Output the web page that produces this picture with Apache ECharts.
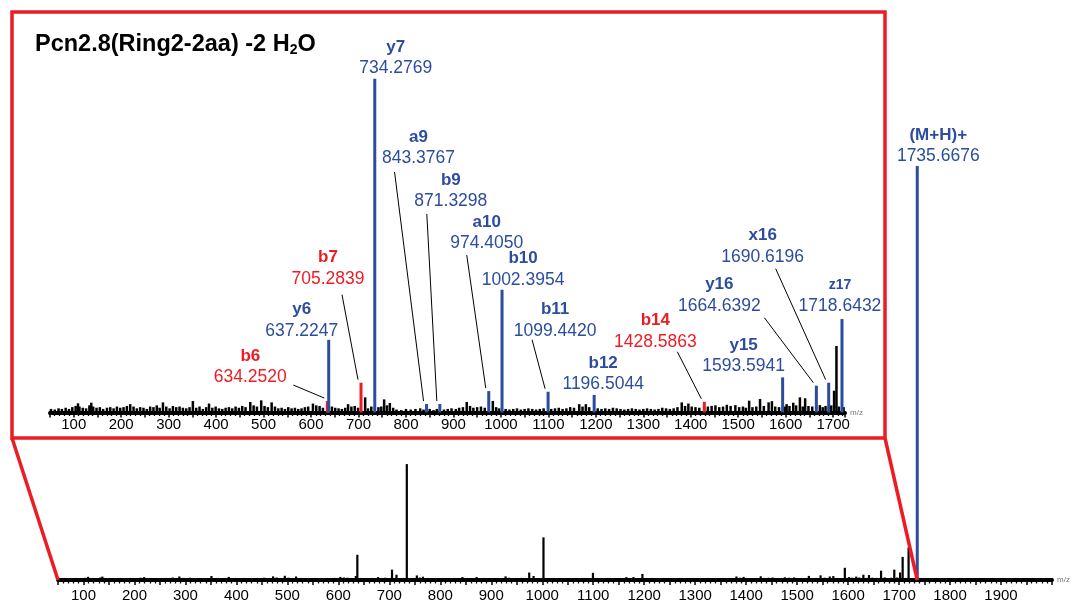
<!DOCTYPE html>
<html>
<head>
<meta charset="utf-8">
<script src="https://cdn.jsdelivr.net/npm/echarts@6/dist/echarts.min.js"></script>
<style>
  html, body { margin: 0; padding: 0; background: #fff; }
  #main { width: 1076px; height: 603px; }
</style>
</head>
<body>
<div id="main"></div>
<script>
// annotated fragment ions (m/z, relative intensity, (M+H)+ = 100)
const ionNames = ['b6', 'y6', 'b7', 'y7', 'a9', 'b9', 'a10', 'b10', 'b11', 'b12', 'b14', 'y15', 'y16', 'x16', 'z17', '(M+H)+'];
const ionMz = [634.2520, 637.2247, 705.2839, 734.2769, 843.3767, 871.3298, 974.4050, 1002.3954, 1099.4420, 1196.5044, 1428.5863, 1593.5941, 1664.6392, 1690.6196, 1718.6432, 1735.6676];
const ionIntensity = [0.96, 6.1, 2.5, 28.0, 0.71, 0.71, 1.8, 10.3, 1.74, 1.47, 0.9, 2.95, 2.25, 2.5, 7.84, 100];
const ionSeries = ['b', 'y', 'b', 'y', 'a', 'b', 'a', 'b', 'b', 'b', 'b', 'y', 'y', 'x', 'z', 'M'];
const redIons = ['b6', 'b7', 'b14'];

// other unassigned peaks that stick out of the baseline
const otherPeaks = [
  [109, 0.77], [137, 0.82], [219, 0.7], [288, 0.85], [351, 0.96], [385, 0.75], [472, 0.88], [495, 1.02],
  [517, 0.85], [604, 0.75], [678, 0.7], [714, 1.27], [754, 1.1], [766, 0.8], [928, 0.88], [983, 0.97],
  [1165, 0.7], [1179, 0.7], [1381, 0.85], [1395, 0.75], [1476, 0.65], [1494, 0.62], [1523, 0.99], [1546, 1.13],
  [1564, 0.85], [1571, 0.95], [1602, 0.7], [1616, 0.82], [1630, 1.27], [1641, 1.19], [1672, 0.62], [1702, 1.83],
  [1707, 5.58]
];

// baseline noise
const noisePeaks = [
  [52, 0.3], [60, 0.25], [68, 0.35], [75, 0.3], [83, 0.4], [90, 0.3], [97, 0.45], [104, 0.55], [112, 0.5],
  [119, 0.4], [126, 0.35], [133, 0.6], [141, 0.5], [148, 0.4], [155, 0.45], [162, 0.3], [170, 0.4], [177, 0.45],
  [184, 0.35], [191, 0.5], [198, 0.4], [205, 0.45], [212, 0.55], [226, 0.5], [233, 0.35], [240, 0.45], [247, 0.4],
  [254, 0.3], [261, 0.5], [268, 0.45], [275, 0.6], [281, 0.4], [295, 0.5], [302, 0.35], [309, 0.55], [316, 0.45],
  [323, 0.5], [330, 0.4], [337, 0.35], [344, 0.45], [358, 0.4], [365, 0.5], [372, 0.3], [379, 0.45], [392, 0.4],
  [399, 0.5], [406, 0.35], [413, 0.3], [420, 0.4], [427, 0.45], [434, 0.35], [441, 0.5], [448, 0.4], [455, 0.55],
  [462, 0.45], [479, 0.6], [486, 0.5], [502, 0.55], [509, 0.45], [524, 0.5], [531, 0.35], [538, 0.4], [545, 0.3],
  [552, 0.45], [559, 0.35], [566, 0.4], [573, 0.3], [580, 0.35], [587, 0.45], [594, 0.5], [611, 0.6], [618, 0.55],
  [625, 0.4], [644, 0.5], [651, 0.4], [658, 0.35], [665, 0.3], [672, 0.4], [685, 0.5], [692, 0.55], [699, 0.4],
  [720, 0.35], [727, 0.5], [742, 0.45], [748, 0.5], [760, 0.6], [773, 0.4], [780, 0.25], [790, 0.2], [800, 0.3],
  [810, 0.25], [820, 0.3], [830, 0.35], [837, 0.25], [850, 0.3], [858, 0.2], [865, 0.3], [880, 0.25], [888, 0.3],
  [896, 0.35], [905, 0.3], [912, 0.4], [920, 0.45], [935, 0.55], [942, 0.4], [950, 0.45], [958, 0.5], [966, 0.4],
  [990, 0.45], [996, 0.35], [1010, 0.3], [1018, 0.25], [1026, 0.3], [1034, 0.35], [1042, 0.25], [1050, 0.3],
  [1058, 0.35], [1066, 0.3], [1074, 0.25], [1082, 0.3], [1090, 0.35], [1106, 0.3], [1114, 0.35], [1122, 0.4],
  [1130, 0.3], [1138, 0.35], [1146, 0.45], [1154, 0.4], [1172, 0.5], [1186, 0.45], [1204, 0.35], [1212, 0.3],
  [1220, 0.35], [1228, 0.3], [1236, 0.4], [1244, 0.35], [1252, 0.3], [1260, 0.25], [1268, 0.3], [1276, 0.35],
  [1284, 0.3], [1292, 0.25], [1300, 0.3], [1308, 0.35], [1316, 0.3], [1324, 0.25], [1332, 0.3], [1340, 0.4],
  [1348, 0.35], [1356, 0.3], [1364, 0.35], [1372, 0.45], [1388, 0.55], [1402, 0.5], [1410, 0.45], [1418, 0.4],
  [1436, 0.5], [1444, 0.55], [1452, 0.6], [1460, 0.45], [1468, 0.5], [1484, 0.55], [1502, 0.45], [1510, 0.5],
  [1516, 0.4], [1530, 0.45], [1538, 0.5], [1554, 0.55], [1578, 0.5], [1586, 0.45], [1598, 0.5], [1608, 0.55],
  [1622, 0.6], [1636, 0.5], [1648, 0.55], [1656, 0.5], [1678, 0.45], [1684, 0.55], [1696, 0.6], [1712, 0.5],
  [1722, 0.45], [1742, 0.5], [1750, 0.4], [1758, 0.3], [1766, 0.25], [1775, 0.3], [1784, 0.2], [1793, 0.25],
  [1802, 0.3], [1811, 0.2], [1820, 0.25], [1830, 0.2], [1840, 0.25], [1850, 0.3], [1860, 0.2], [1870, 0.25],
  [1880, 0.2], [1890, 0.25], [1900, 0.2], [1910, 0.25], [1920, 0.2], [1930, 0.25], [1940, 0.2], [1950, 0.25],
  [1960, 0.3], [1970, 0.2], [1980, 0.25], [1990, 0.2]
];

const insetTickLabels = [100, 200, 300, 400, 500, 600, 700, 800, 900, 1000, 1100, 1200, 1300, 1400, 1500, 1600, 1700];
const fullTickLabels = [100, 200, 300, 400, 500, 600, 700, 800, 900, 1000, 1100, 1200, 1300, 1400, 1500, 1600, 1700, 1800, 1900];

const FONT = '"Liberation Sans", Arial, Helvetica, sans-serif';
const BLUE = '#2c4c9e';
const RED = '#ec1c24';
const INSET_MAX = 1725;

// where the label sits relative to the top of its peak (px), and where its leader starts
const labelLayout = {
  'b6': { dx: -77, dy: -24, lead: [-34, -16] },
  'y6': { dx: -27, dy: -9 },
  'b7': { dx: -33, dy: -104, lead: [-19, -88] },
  'y7': { dx: 21, dy: -11 },
  'a9': { dx: -8, dy: -246, lead: [-32, -232] },
  'b9': { dx: 11, dy: -203, lead: [-13, -190] },
  'a10': { dx: -2, dy: -148, lead: [-22, -136] },
  'b10': { dx: 21, dy: -10 },
  'b11': { dx: 7, dy: -61, lead: [-16, -52] },
  'b12': { dx: 9, dy: -11 },
  'b14': { dx: -49, dy: -60, lead: [-27, -50] },
  'y15': { dx: -39, dy: -11 },
  'y16': { dx: -97, dy: -80, lead: [-52, -68] },
  'x16': { dx: -66, dy: -126, lead: [-53, -114] },
  'z17': { dx: -2, dy: -13, small: true },
  '(M+H)+': { dx: 21, dy: -10 }
};

function ionColor(i) {
  return redIons.indexOf(ionNames[i]) >= 0 ? RED : BLUE;
}

function stems(xi, data, color, width) {
  return {
    type: 'custom',
    xAxisIndex: xi,
    yAxisIndex: xi,
    data: data,
    silent: true,
    renderItem: function (params, api) {
      const base = api.coord([api.value(0), 0]);
      const top = api.coord([api.value(0), api.value(1)]);
      const c = typeof color === 'function' ? color(api.value(2)) : color;
      return {
        type: 'line',
        shape: { x1: base[0], y1: base[1], x2: top[0], y2: top[1] },
        style: { stroke: c, lineWidth: width }
      };
    }
  };
}

function ionLabels(xi, data) {
  return {
    type: 'custom',
    xAxisIndex: xi,
    yAxisIndex: xi,
    data: data,
    silent: true,
    z: 5,
    renderItem: function (params, api) {
      const i = api.value(2);
      const name = ionNames[i];
      const lay = labelLayout[name];
      const top = api.coord([api.value(0), api.value(1)]);
      const col = ionColor(i);
      const vx = top[0] + lay.dx, vy = top[1] + lay.dy;
      const children = [
        { type: 'text', x: vx, y: vy - 21, style: { text: name, fill: col, fontSize: lay.small ? 14 : 17, fontWeight: 'bold', fontFamily: FONT, align: 'center', verticalAlign: 'middle' } },
        { type: 'text', x: vx, y: vy, style: { text: ionMz[i].toFixed(4), fill: col, fontSize: 17.5, fontFamily: FONT, align: 'center', verticalAlign: 'middle' } }
      ];
      if (lay.lead) {
        children.push({
          type: 'line',
          shape: { x1: top[0] + lay.lead[0], y1: top[1] + lay.lead[1], x2: top[0] - 3, y2: top[1] - 3 },
          style: { stroke: '#000', lineWidth: 1 }
        });
      }
      return { type: 'group', children: children };
    }
  };
}

function xAxisCfg(idx, min, max, labels, margin) {
  return {
    gridIndex: idx,
    type: 'value',
    min: min,
    max: max,
    interval: 50,
    splitLine: { show: false },
    axisLine: { onZero: false, lineStyle: { color: '#000', width: 4 } },
    axisTick: { length: 5, lineStyle: { color: '#000', width: 1.5 } },
    minorTick: { show: true, splitNumber: 5, length: 3.5, lineStyle: { color: '#000', width: 1.3 } },
    minorSplitLine: { show: false },
    axisLabel: {
      color: '#000', fontSize: 15, fontFamily: FONT, margin: margin,
      formatter: function (v) { return labels.indexOf(v) >= 0 ? String(v) : ''; }
    },
    name: 'm/z',
    nameLocation: 'end',
    nameGap: 5,
    nameTextStyle: { color: '#777', fontSize: 8, fontFamily: FONT }
  };
}

const ionData = ionMz.map(function (m, i) { return [m, ionIntensity[i], i]; });
const blackData = noisePeaks.concat(otherPeaks);
const insetBlack = blackData.filter(function (d) { return d[0] <= INSET_MAX; });
const insetIons = ionData.filter(function (d) { return d[0] <= INSET_MAX; });
const fullBlack = blackData.concat(ionData.filter(function (d) { return ionSeries[d[2]] !== 'M'; }).map(function (d) { return [d[0], d[1]]; }));
const parent = ionData.filter(function (d) { return ionSeries[d[2]] === 'M'; });

const chart = echarts.init(document.getElementById('main'));
const option = {
  animation: false,
  backgroundColor: '#fff',
  grid: [
    { left: 50, top: 55, width: 795, height: 357.5 },
    { left: 58, top: 166, width: 994, height: 414 }
  ],
  xAxis: [
    xAxisCfg(0, 50, INSET_MAX, insetTickLabels, 5),
    xAxisCfg(1, 50, 2000, fullTickLabels, 8)
  ],
  yAxis: [
    { gridIndex: 0, type: 'value', min: 0, max: 30, show: false },
    { gridIndex: 1, type: 'value', min: 0, max: 100, show: false }
  ],
  series: [
    stems(0, insetBlack, '#000', 2.5),
    stems(0, insetIons, ionColor, 3),
    ionLabels(0, insetIons),
    stems(1, fullBlack, '#000', 2.2),
    stems(1, parent, BLUE, 3),
    ionLabels(1, parent)
  ]
};
chart.setOption(option);

// zoom box and the lines that tie it to the full spectrum
const pL = chart.convertToPixel({ xAxisIndex: 1, yAxisIndex: 1 }, [50, 0]);
const pR = chart.convertToPixel({ xAxisIndex: 1, yAxisIndex: 1 }, [ionMz[ionMz.length - 1], 0]);
chart.setOption({
  graphic: [
    { type: 'rect', shape: { x: 12, y: 12, width: 873, height: 426 }, style: { fill: 'none', stroke: RED, lineWidth: 3.5 }, z: 10 },
    { type: 'line', shape: { x1: 12, y1: 438, x2: pL[0], y2: pL[1] }, style: { stroke: RED, lineWidth: 3.5 }, z: 10 },
    { type: 'line', shape: { x1: 885, y1: 438, x2: pR[0], y2: pR[1] }, style: { stroke: RED, lineWidth: 3.5 }, z: 10 },
    {
      type: 'text', x: 35, y: 45, z: 10,
      style: {
        text: '{b|Pcn2.8(Ring2-2aa) -2 H}{s|2}{b|O}',
        verticalAlign: 'middle',
        rich: {
          b: { fontSize: 23.5, fontWeight: 'bold', fontFamily: FONT, fill: '#000', verticalAlign: 'bottom' },
          s: { fontSize: 14, fontWeight: 'bold', fontFamily: FONT, fill: '#000', verticalAlign: 'bottom' }
        }
      }
    }
  ]
});
</script>
</body>
</html>
